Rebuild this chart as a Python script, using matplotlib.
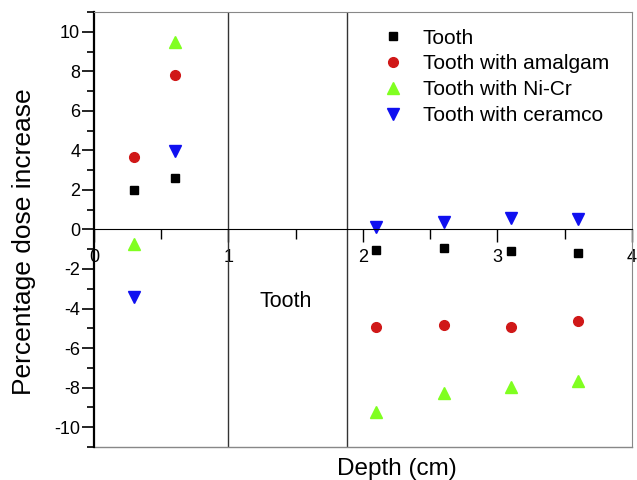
import matplotlib.pyplot as plt
import numpy as np
from matplotlib.ticker import MultipleLocator

plt.rcParams['font.family'] = ['Liberation Sans', 'DejaVu Sans']
plt.rcParams['axes.unicode_minus'] = False

# Profundidade (cm) e aumento percentual de dose
depth = [0.3, 0.6, 2.1, 2.6, 3.1, 3.6]
tooth = [2.0, 2.6, -1.03, -0.93, -1.07, -1.17]
amalgam = [3.64, 7.83, -4.96, -4.84, -4.92, -4.64]
nicr = [-0.75, 9.48, -9.22, -8.26, -7.95, -7.68]
ceramco = [-3.43, 3.97, 0.12, 0.37, 0.59, 0.51]
boundaries = [1.0, 1.88]

fig = plt.figure(figsize=(6.37, 4.80), dpi=100)
ax = fig.add_axes([0.1476, 0.069, 0.8444, 0.906])

ax.plot(depth, tooth, 's', color='black', ms=5.5, label='Tooth')
ax.plot(depth, amalgam, 'o', color='#d01818', ms=7, label='Tooth with amalgam')
ax.plot(depth, nicr, '^', color='#80ff20', ms=8, label='Tooth with Ni-Cr')
ax.plot(depth, ceramco, 'v', color='#1010f0', ms=8, label='Tooth with ceramco')

for b in boundaries:
    ax.axvline(b, color='#333333', lw=1)

ax.text(1.23, -3.65, 'Tooth', fontsize=15.5, va='center', ha='left')

ax.set_xlim(0, 4)
ax.set_ylim(-11, 11)

# eixos no estilo Origin
ax.spines['bottom'].set_position(('data', 0))
ax.spines['bottom'].set_color('black')
ax.spines['left'].set_linewidth(1.6)
ax.spines['top'].set_color('#888888')
ax.spines['right'].set_color('#888888')
ax.plot([0, 1], [0, 0], transform=ax.transAxes, color='#888888', lw=1, clip_on=False)

ax.xaxis.set_major_locator(MultipleLocator(1))
ax.xaxis.set_minor_locator(MultipleLocator(0.5))
ax.yaxis.set_major_locator(MultipleLocator(2))
ax.yaxis.set_minor_locator(MultipleLocator(1))
ax.tick_params(axis='x', which='major', direction='out', length=9, width=1, labelsize=13, pad=5)
ax.tick_params(axis='x', which='minor', direction='out', length=7, width=1)
ax.tick_params(axis='y', which='major', direction='out', length=9, width=1.2, labelsize=13, pad=1)
ax.tick_params(axis='y', which='minor', direction='out', length=5, width=1.2)

fig.text(397 / 637, 1 - 475 / 480, 'Depth (cm)', fontsize=17.5, ha='center', va='baseline')
fig.text(24 / 637, 0.497, 'Percentage dose increase', fontsize=19, rotation=90,
         ha='center', va='center')

ax.legend(loc='upper left', bbox_to_anchor=(0.536, 0.962), frameon=False, fontsize=15,
          handlelength=1.0, handletextpad=0.93, labelspacing=0.33,
          borderaxespad=0, borderpad=0)

plt.savefig('out.png', dpi=100)
